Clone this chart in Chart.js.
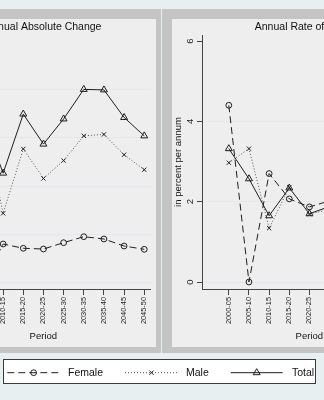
<!DOCTYPE html>
<html>
<head>
<meta charset="utf-8">
<script src="https://cdn.jsdelivr.net/npm/chart.js@4.4.1/dist/chart.umd.min.js"></script>
<style>
  html, body { margin: 0; padding: 0; }
  body {
    width: 324px; height: 400px; overflow: hidden; position: relative;
    background: #e8eff1;
    font-family: "Liberation Sans", Arial, sans-serif;
  }
  .frame { position: absolute; background: #c4c4c4; }
  .inner { position: absolute; background: #eeeeee; }
  canvas.panel { position: absolute; }
  #legend {
    position: absolute; left: 3px; top: 359px; width: 311px; height: 23px;
    background: #ffffff; border: 1px solid #3a3a3a;
  }
  #legend canvas { position: absolute; left: 0; top: 0; }
  #legend span {
    position: absolute; top: 5px; font-size: 10.5px; line-height: 14px; color: #111;
  }
</style>
</head>
<body>
  <div class="frame" style="left:-120px; top:9px; width:281px; height:344px;"></div>
  <div class="inner" style="left:-94px; top:19px; width:250px; height:328px;"></div>
  <div class="frame" style="left:162px; top:9px; width:300px; height:344px;"></div>
  <div class="inner" style="left:172px; top:19px; width:290px; height:328px;"></div>

  <canvas id="absChart" class="panel" width="250" height="328" style="left:-94px; top:19px;"></canvas>
  <canvas id="rateChart" class="panel" width="250" height="328" style="left:172px; top:19px;"></canvas>

  <div id="legend">
    <canvas id="legendSamples" width="311" height="23"></canvas>
    <span style="left:64px;">Female</span>
    <span style="left:182px;">Male</span>
    <span style="left:288px;">Total</span>
  </div>

<script>
// Five-year periods on the horizontal axis
const periods = ['2000-05', '2005-10', '2010-15', '2015-20', '2020-25',
                 '2025-30', '2030-35', '2035-40', '2040-45', '2045-50'];

// Annual absolute change
const absFemale = [11.0, 0.0, 8.06, 7.17, 7.02, 8.33, 9.57, 9.09, 7.64, 6.96];
const absMale   = [25.5, 34.0, 14.4, 27.7, 21.6, 25.3, 30.4, 30.7, 26.5, 23.4];
const absTotal  = [36.5, 34.0, 22.7, 34.9, 28.7, 33.9, 40.0, 39.9, 34.2, 30.4];

// Annual rate of change, in percent per annum
const rateFemale = [4.40, 0.00, 2.70, 2.07, 1.87, 2.02, 2.09, 1.81, 1.40, 1.20];
const rateMale   = [2.97, 3.32, 1.34, 2.36, 1.69, 1.81, 1.98, 1.82, 1.45, 1.20];
const rateTotal  = [3.32, 2.57, 1.65, 2.34, 1.70, 1.88, 2.01, 1.82, 1.44, 1.20];

// Axis tick values
const absTicks  = [0, 10, 20, 30, 40, 50];
const rateTicks = [0, 2, 4, 6];

const FONT = '"Liberation Sans", Arial, sans-serif';
const INK = '#1e1e1e';

const seriesStyle = {
  Female: { borderColor: INK, borderWidth: 1, borderDash: [7, 4],
            pointStyle: 'circle', pointRadius: 2.9, pointBorderWidth: 1,
            pointBorderColor: INK, pointBackgroundColor: 'rgba(0,0,0,0)' },
  Male:   { borderColor: '#555555', borderWidth: 1, borderDash: [1, 2],
            pointStyle: 'crossRot', pointRadius: 3, pointBorderWidth: 1,
            pointBorderColor: INK, pointBackgroundColor: 'rgba(0,0,0,0)' },
  Total:  { borderColor: INK, borderWidth: 1, borderDash: [],
            pointStyle: 'triangle', pointRadius: 4, pointBorderWidth: 1,
            pointBorderColor: INK, pointBackgroundColor: 'rgba(0,0,0,0)' }
};

function toPoints(values) {
  return values.map((v, i) => ({ x: i, y: v }));
}

function makePanel(canvasId, titleText, yTicks, yMin, yMax, yTitle, female, male, total) {
  const datasets = [
    Object.assign({ label: 'Female', data: toPoints(female) }, seriesStyle.Female),
    Object.assign({ label: 'Male',   data: toPoints(male) },   seriesStyle.Male),
    Object.assign({ label: 'Total',  data: toPoints(total) },  seriesStyle.Total)
  ].map(d => Object.assign(d, { tension: 0, fill: false }));

  const topTick = yTicks[yTicks.length - 1];

  return new Chart(document.getElementById(canvasId), {
    type: 'line',
    data: { datasets },
    options: {
      responsive: false,
      animation: false,
      events: [],
      layout: { padding: { left: 0, right: 5.3, top: 0, bottom: 0 } },
      plugins: {
        legend: { display: false },
        tooltip: { enabled: false },
        title: {
          display: true, text: titleText, fullSize: false, color: '#111',
          font: { family: FONT, size: 10.5, weight: 'normal' },
          padding: { top: 1.7, bottom: 1.7 }
        }
      },
      scales: {
        x: {
          type: 'linear', min: -1.33, max: 9.32,
          afterBuildTicks: s => { s.ticks = periods.map((p, i) => ({ value: i })); },
          afterFit: s => { s.height = 58; },
          ticks: {
            autoSkip: false, minRotation: 90, maxRotation: 90, padding: 2,
            color: '#222', font: { family: FONT, size: 7.4 },
            callback: v => periods[v]
          },
          grid: { drawOnChartArea: false, drawTicks: true, tickLength: 6,
                  tickColor: '#444', tickWidth: 1 },
          border: { display: true, color: '#444', width: 1 },
          title: { display: true, text: 'Period', color: '#111',
                   font: { family: FONT, size: 9.5 },
                   padding: { top: 0, bottom: 5.3 } }
        },
        y: {
          min: yMin, max: yMax,
          afterBuildTicks: s => { s.ticks = yTicks.map(v => ({ value: v })); },
          afterFit: s => { s.width = 30; },
          ticks: {
            minRotation: 90, maxRotation: 90, crossAlign: 'center', padding: 4.4,
            color: '#222', font: { family: FONT, size: 9.5 }
          },
          grid: {
            color: c => (c.tick && c.tick.value === topTick) ? 'rgba(0,0,0,0)' : '#e0eaed',
            lineWidth: 1, tickColor: '#444', tickLength: 5
          },
          border: { display: true, color: '#444', width: 1 },
          title: { display: !!yTitle, text: yTitle || '', color: '#111',
                   font: { family: FONT, size: 9.5 },
                   padding: { top: 1, bottom: 0 } }
        }
      }
    }
  });
}

makePanel('absChart', 'Annual Absolute Change', absTicks, -1.24, 51.24, '',
          absFemale, absMale, absTotal);
makePanel('rateChart', 'Annual Rate of Change', rateTicks, -0.174, 6.15,
          'in percent per annum', rateFemale, rateMale, rateTotal);

// Legend samples: line segment with the series marker in its middle
(function drawLegendSamples() {
  const ctx = document.getElementById('legendSamples').getContext('2d');
  const y = 12.7;
  const items = [
    { style: seriesStyle.Female, x0: 3.3,   x1: 56 },
    { style: seriesStyle.Male,   x0: 121,   x1: 174 },
    { style: seriesStyle.Total,  x0: 226.7, x1: 278.7 }
  ];
  items.forEach(({ style, x0, x1 }) => {
    ctx.save();
    ctx.strokeStyle = style.borderColor;
    ctx.lineWidth = style.borderWidth;
    ctx.setLineDash(style.borderDash);
    ctx.beginPath();
    ctx.moveTo(x0, y);
    ctx.lineTo(x1, y);
    ctx.stroke();
    ctx.restore();

    ctx.save();
    ctx.strokeStyle = style.pointBorderColor;
    ctx.fillStyle = style.pointBackgroundColor;
    ctx.lineWidth = style.pointBorderWidth;
    Chart.helpers.drawPoint(ctx, {
      pointStyle: style.pointStyle, radius: style.pointRadius,
      borderWidth: style.pointBorderWidth, rotation: 0
    }, (x0 + x1) / 2, y);
    ctx.restore();
  });
})();
</script>
</body>
</html>
